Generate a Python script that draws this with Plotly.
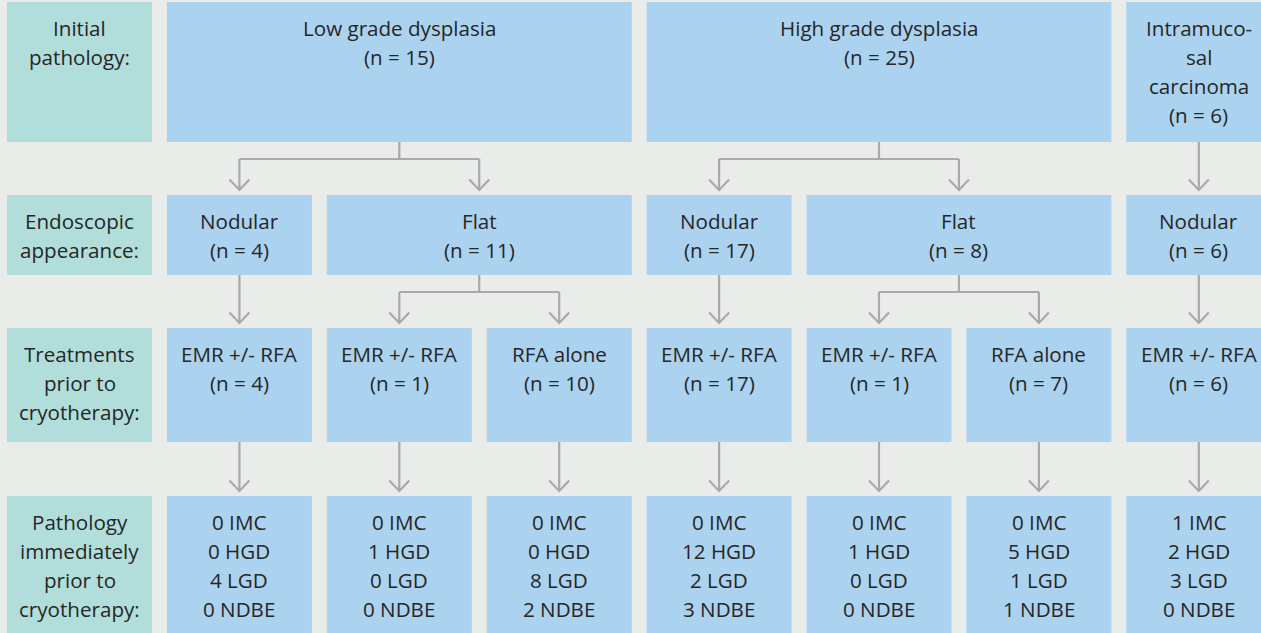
import plotly.graph_objects as go

# ---------------- data ----------------
row_labels = [
    ["Initial", "pathology:"],
    ["Endoscopic", "appearance:"],
    ["Treatments", "prior to", "cryotherapy:"],
    ["Pathology", "immediately", "prior to", "cryotherapy:"],
]

initial_pathology = [["Low grade dysplasia"], ["High grade dysplasia"], ["Intramuco-", "sal", "carcinoma"]]
initial_n = [15, 25, 6]
initial_span = [(0, 2), (3, 5), (6, 6)]

appearance = ["Nodular", "Flat", "Nodular", "Flat", "Nodular"]
appearance_n = [4, 11, 17, 8, 6]
appearance_span = [(0, 0), (1, 2), (3, 3), (4, 5), (6, 6)]
appearance_parent = [0, 0, 1, 1, 2]

treatments = ["EMR +/- RFA", "EMR +/- RFA", "RFA alone", "EMR +/- RFA", "EMR +/- RFA", "RFA alone", "EMR +/- RFA"]
treatment_n = [4, 1, 10, 17, 1, 7, 6]
treatment_parent = [0, 1, 1, 2, 3, 3, 4]

pre_cryo_categories = ["IMC", "HGD", "LGD", "NDBE"]
imc = [0, 0, 0, 0, 0, 0, 1]
hgd = [0, 1, 0, 12, 1, 5, 2]
lgd = [4, 0, 8, 2, 0, 1, 3]
ndbe = [0, 0, 2, 3, 0, 1, 0]

# ---------------- style / layout ----------------
W, H = 1261, 633
BG = "#eaecea"
TEAL = "#b1dedb"
BLUE = "#abd2ef"
GRAY = "#a9a9ab"
TXT = "#262626"
FONT = "Open Sans"
FS = 20.6

X0, STEP, BOXW = 7, 159.9, 145
ROW_TOP = [2, 195, 328, 496]
ROW_BOT = [142, 275, 442, 645]
FIRST = 25.5
LINE = 29.3


def colx(c):  # c = -1 for label column
    return X0 + STEP * (c + 1)


# build node rows: (span, lines, parent)
rows = []
rows.append([(sp, lines + [f"(n = {n})"], None)
             for sp, lines, n in zip(initial_span, initial_pathology, initial_n)])
rows.append([(sp, [a, f"(n = {n})"], p)
             for sp, a, n, p in zip(appearance_span, appearance, appearance_n, appearance_parent)])
rows.append([((i, i), [t, f"(n = {n})"], p)
             for i, (t, n, p) in enumerate(zip(treatments, treatment_n, treatment_parent))])
rows.append([((i, i), [f"{a} {pre_cryo_categories[0]}", f"{b} {pre_cryo_categories[1]}",
                       f"{c} {pre_cryo_categories[2]}", f"{d} {pre_cryo_categories[3]}"], i)
             for i, (a, b, c, d) in enumerate(zip(imc, hgd, lgd, ndbe))])

shapes = []
annotations = []


def add_text(lines, cx, top):
    for k, s in enumerate(lines):
        annotations.append(dict(
            x=cx, y=top + FIRST + k * LINE, xref="x", yref="y", text=s,
            showarrow=False, xanchor="center", yanchor="middle",
            font=dict(family=FONT, size=FS, color=TXT)))


def center(span):
    return (colx(span[0]) + colx(span[1]) + BOXW) / 2


for r, labels in enumerate(row_labels):
    x0 = colx(-1)
    shapes.append(dict(type="rect", x0=x0, x1=x0 + BOXW, y0=ROW_TOP[r], y1=ROW_BOT[r],
                       fillcolor=TEAL, line=dict(width=0), layer="below"))
    add_text(labels, x0 + BOXW / 2, ROW_TOP[r])

for r, nodes in enumerate(rows):
    for sp, lines, parent in nodes:
        x0 = colx(sp[0])
        x1 = colx(sp[1]) + BOXW
        shapes.append(dict(type="rect", x0=x0, x1=x1, y0=ROW_TOP[r], y1=ROW_BOT[r],
                           fillcolor=BLUE, line=dict(width=0), layer="below"))
        add_text(lines, (x0 + x1) / 2, ROW_TOP[r])

# connectors
for r in range(1, len(rows)):
    parents = rows[r - 1]
    for pi, (psp, _, _) in enumerate(parents):
        kids = [center(sp) for sp, _, p in rows[r] if p == pi]
        if not kids:
            continue
        px = center(psp)
        pb = ROW_BOT[r - 1]
        by = pb + 17
        tip = ROW_TOP[r] - 5
        if len(kids) == 1 and abs(kids[0] - px) < 0.5:
            path = f"M{px},{pb} L{px},{tip}"
        else:
            lo, hi = min(kids + [px]), max(kids + [px])
            path = f"M{px},{pb} L{px},{by} M{lo},{by} L{hi},{by}"
            for cx in kids:
                path += f" M{cx},{by} L{cx},{tip}"
        shapes.append(dict(type="path", path=path, line=dict(color=GRAY, width=2.2)))
        for cx in kids:
            shapes.append(dict(type="path",
                               path=f"M{cx - 10},{tip - 10.5} L{cx},{tip} L{cx + 10},{tip - 10.5}",
                               line=dict(color=GRAY, width=2.2)))

fig = go.Figure()
fig.update_layout(
    width=W, height=H, margin=dict(l=0, r=0, t=0, b=0),
    paper_bgcolor=BG, plot_bgcolor=BG,
    xaxis=dict(range=[0, W], visible=False, fixedrange=True),
    yaxis=dict(range=[H, 0], visible=False, fixedrange=True),
    shapes=shapes, annotations=annotations, showlegend=False,
)
fig.write_html(
    "out.html",
    config={"displayModeBar": False, "staticPlot": True},
    post_script="document.body.style.margin='0';document.body.style.overflow='hidden';"
                "document.body.style.background='" + BG + "';",
)
